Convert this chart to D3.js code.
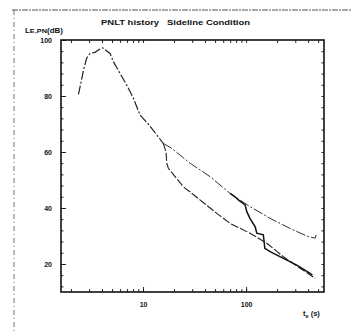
<!DOCTYPE html>
<html>
<head>
<meta charset="utf-8">
<script src="https://cdn.jsdelivr.net/npm/d3@7"></script>
<style>
  body { margin: 0; background: #fff; }
  text { font-family: "Liberation Sans", Arial, sans-serif; fill: #111; white-space: pre; }
</style>
</head>
<body>
<div id="chart"></div>
<script>
// PNLT history, sideline condition
const riseT = [2.36, 2.48, 2.67, 2.84, 3.06, 3.42, 3.68, 4.06, 4.78, 5.15, 5.98, 6.95, 8.06, 9.35, 11.3, 13.6, 15.7];
const riseL = [80.6, 84.2, 89.9, 93.5, 95.2, 95.6, 96.4, 97.2, 95.2, 92.3, 88.1, 83.9, 79.2, 73.2, 69.9, 66.1, 63.1];

const upperT = [15.7, 19.0, 28.6, 44.7, 70, 109, 171, 267, 388, 468, 479];
const upperL = [63.1, 61.3, 56.0, 51.2, 45.2, 40.5, 36.3, 32.7, 30.0, 29.2, 30.4];

const lowerT = [15.7, 16.7, 17.0, 17.6, 24.6, 35.7, 52, 70, 109, 159, 230, 334, 468];
const lowerL = [63.1, 60.1, 56.0, 54.2, 47.6, 42.9, 38.1, 34.5, 31.0, 27.4, 22.6, 18.5, 14.9];

const midT = [70, 78, 84, 97.8, 101.6, 109, 122.5, 127, 147, 152, 171, 230, 310, 418, 440];
const midL = [45.2, 44.0, 42.9, 41.1, 38.7, 36.3, 33.3, 31.0, 30.4, 25.6, 24.4, 22.0, 19.6, 16.7, 16.0];

const yTicks = [20, 40, 60, 80, 100];
const xTicks = [10, 100];

const width = 352, height = 334;
const margin = { top: 40, right: 28, bottom: 42, left: 61 };

const svg = d3.select('#chart').append('svg')
  .attr('width', width).attr('height', height);

// scanned page border
svg.append('line').attr('x1', 12).attr('x2', 352).attr('y1', 10).attr('y2', 10)
  .attr('stroke', '#555').attr('stroke-width', 1).attr('stroke-dasharray', '6,1,2,1');
svg.append('line').attr('x1', 14).attr('x2', 14).attr('y1', 10).attr('y2', 334)
  .attr('stroke', '#777').attr('stroke-width', 1).attr('stroke-dasharray', '5,3,1,3');

const x = d3.scaleLog().domain([1.6, 570]).range([margin.left, width - margin.right]);
const y = d3.scaleLinear().domain([10, 100]).range([height - margin.bottom, margin.top]);

const g = svg.append('g');

// minor ticks
const xMinor = [];
[1, 10, 100].forEach(d => { for (let k = 1; k < 10; k++) { const v = d * k; if (v >= 1.6 && v <= 570) xMinor.push(v); } });
const yMinor = d3.range(12, 100, 4);

g.append('g').attr('transform', `translate(0,${y(10)})`)
  .call(d3.axisBottom(x).tickValues(xMinor).tickSize(-3).tickFormat(''))
  .call(s => s.select('.domain').remove());
g.append('g').attr('transform', `translate(0,${y(100)})`)
  .call(d3.axisTop(x).tickValues(xMinor).tickSize(-3).tickFormat(''))
  .call(s => s.select('.domain').remove());
g.append('g').attr('transform', `translate(${x(1.6)},0)`)
  .call(d3.axisLeft(y).tickValues(yMinor).tickSize(-2.5).tickFormat(''))
  .call(s => s.select('.domain').remove());
g.append('g').attr('transform', `translate(${x(570)},0)`)
  .call(d3.axisRight(y).tickValues(yMinor).tickSize(-2.5).tickFormat(''))
  .call(s => s.select('.domain').remove());

// major ticks with labels
const xAx = g.append('g').attr('transform', `translate(0,${y(10)})`)
  .call(d3.axisBottom(x).tickValues(xTicks).tickSize(-5).tickPadding(10).tickFormat(d3.format('d')));
xAx.select('.domain').remove();
xAx.selectAll('text').style('font-size', '7px').style('font-weight', 'bold');

const yAx = g.append('g').attr('transform', `translate(${x(1.6)},0)`)
  .call(d3.axisLeft(y).tickValues(yTicks).tickSize(-5).tickPadding(9).tickFormat(d3.format('d')));
yAx.select('.domain').remove();
yAx.selectAll('text').style('font-size', '7px').style('font-weight', 'bold');

g.selectAll('.tick line').attr('stroke', '#111').attr('stroke-width', 0.9);

// plot frame
svg.append('rect')
  .attr('x', x(1.6)).attr('y', y(100))
  .attr('width', x(570) - x(1.6)).attr('height', y(10) - y(100))
  .attr('fill', 'none').attr('stroke', '#111').attr('stroke-width', 1.6);

const line = d3.line().x(d => x(d[0])).y(d => y(d[1]));
const zip = (a, b) => a.map((v, i) => [v, b[i]]);

const series = [
  { t: riseT, l: riseL, w: 1.2, dash: '9,2,2,2', c: '#222' },
  { t: upperT, l: upperL, w: 1.0, dash: '10,2,2,2', c: '#333' },
  { t: lowerT, l: lowerL, w: 1.1, dash: '8,2', c: '#222' },
  { t: midT, l: midL, w: 1.5, dash: null, c: '#111' }
];
series.forEach(s => {
  svg.append('path').datum(zip(s.t, s.l))
    .attr('d', line)
    .attr('fill', 'none')
    .attr('stroke', s.c)
    .attr('stroke-width', s.w)
    .attr('stroke-dasharray', s.dash);
});

// titles
svg.append('text').attr('x', 101).attr('y', 25)
  .style('font-size', '8px').style('font-weight', 'bold')
  .attr('textLength', 149).attr('lengthAdjust', 'spacingAndGlyphs')
  .text('PNLT history   Sideline Condition');

const yl = svg.append('text').attr('x', 25).attr('y', 33)
  .style('font-size', '6.5px').style('font-weight', 'bold')
  .attr('textLength', 38).attr('lengthAdjust', 'spacingAndGlyphs');
yl.append('tspan').text('L');
yl.append('tspan').style('font-size', '6px').text('E,PN');
yl.append('tspan').text('(dB)');

const xl = svg.append('text').attr('x', 303).attr('y', 316)
  .style('font-size', '7.5px').style('font-weight', 'bold');
xl.append('tspan').text('t');
xl.append('tspan').attr('dy', 2).style('font-size', '5.5px').text('e');
xl.append('tspan').attr('dy', -2).text(' (s)');
</script>
</body>
</html>
